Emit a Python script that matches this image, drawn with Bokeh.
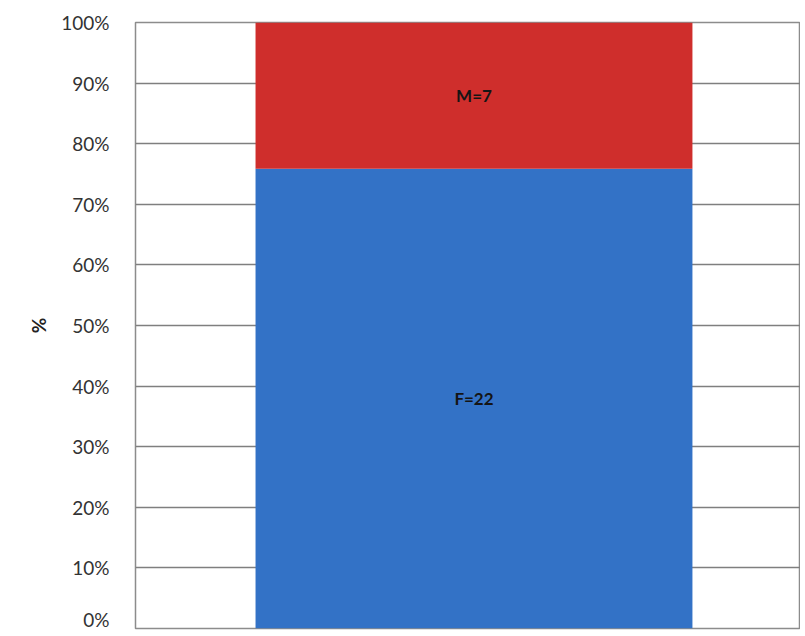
from bokeh.plotting import figure
from bokeh.models import ColumnDataSource, Range1d, NumeralTickFormatter, FixedTicker
from bokeh.core.properties import value
from bokeh.embed import file_html
from bokeh.resources import INLINE

# Data
groups = ["F", "M"]
counts = [22, 7]
colors = ["#3372c6", "#cf2e2c"]
y_ticks = [0, 0.1, 0.2, 0.3, 0.4, 0.5, 0.6, 0.7, 0.8, 0.9, 1.0]

total = sum(counts)
fracs = [c / total for c in counts]

p = figure(width=800, height=630, output_backend="svg", toolbar_location=None,
           x_range=Range1d(0, 1), y_range=Range1d(0, 1),
           min_border_left=135, min_border_right=0, min_border_top=22, min_border_bottom=2)

src = ColumnDataSource(dict(x=[0.509], F=[fracs[0]], M=[fracs[1]]))
p.vbar_stack(groups, x="x", width=0.657, color=colors, source=src, line_color=None)

# labels
bottoms = [0, fracs[0]]
lab_src = ColumnDataSource(dict(
    x=[0.509, 0.509],
    y=[b + f / 2 for b, f in zip(bottoms, fracs)],
    t=[f"{g}={c}" for g, c in zip(groups, counts)],
))
p.text(x="x", y="y", text="t", source=lab_src, text_align="center", text_baseline="middle",
       text_font=value("Lato"), text_font_style="bold", text_font_size="17px",
       text_color="#151515")

p.xaxis.visible = False
p.yaxis.ticker = FixedTicker(ticks=y_ticks)
p.yaxis.formatter = NumeralTickFormatter(format="0%")
p.yaxis.major_tick_line_color = None
p.yaxis.minor_tick_line_color = None
p.yaxis.axis_line_color = None
p.yaxis.major_label_text_font = "Lato"
p.yaxis.major_label_text_font_size = "19px"
p.yaxis.major_label_text_color = "#333333"
p.yaxis.major_label_standoff = 20
p.yaxis.axis_label = "%"
p.yaxis.axis_label_text_font = "Lato"
p.yaxis.axis_label_text_font_style = "bold"
p.yaxis.axis_label_text_font_size = "19px"
p.yaxis.axis_label_text_color = "#222222"
p.yaxis.axis_label_standoff = 8

p.xgrid.grid_line_color = None
p.ygrid.grid_line_color = "#7f7f7f"
p.ygrid.grid_line_width = 1.5
p.ygrid.level = "underlay"

p.outline_line_color = "#8c8c8c"
p.outline_line_width = 1.5
p.background_fill_color = "white"
p.border_fill_color = "white"

open("out.html", "w").write(file_html(p, INLINE))
